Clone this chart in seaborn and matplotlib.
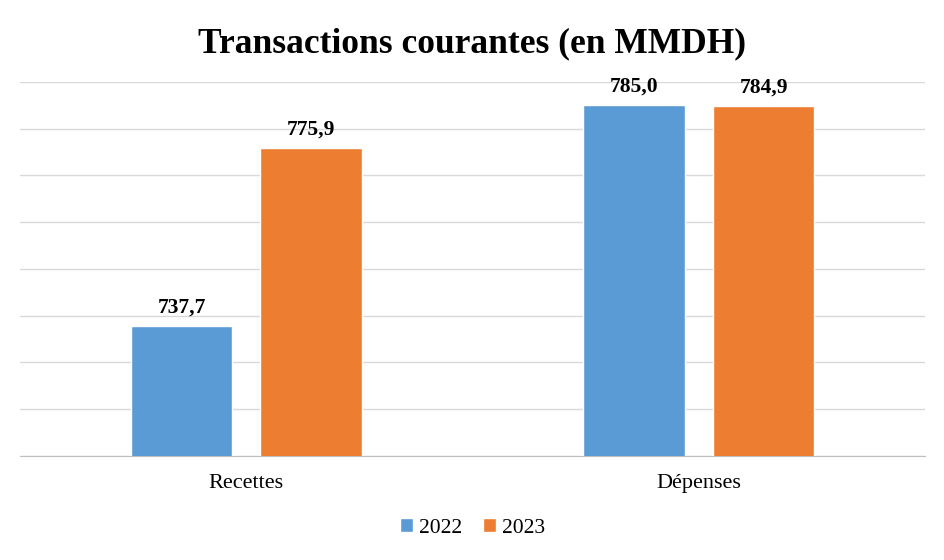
import numpy as np
import pandas as pd
import matplotlib.pyplot as plt
import seaborn as sns

categories = ['Recettes', 'Dépenses']
years = ['2022', '2023']
values_2022 = [737.7, 785.0]
values_2023 = [775.9, 784.9]

df = pd.DataFrame({
    'categorie': categories * 2,
    'annee': [years[0]] * 2 + [years[1]] * 2,
    'valeur': values_2022 + values_2023,
})

sns.set_style('white')
plt.rcParams['font.family'] = ['Liberation Serif', 'DejaVu Serif']
plt.rcParams['text.color'] = 'black'
plt.rcParams['xtick.color'] = 'black'

fig = plt.figure(figsize=(9.45, 5.6), dpi=100)
ax = fig.add_axes([0.021, 0.186, 0.958, 0.668])

palette = {'2022': '#5B9BD5', '2023': '#ED7D31'}
sns.barplot(data=df, x='categorie', y='valeur', hue='annee', palette=palette,
            width=0.572, gap=0.217, saturation=1, ax=ax, legend=True, zorder=3)

ax.set_ylim(710, 790)
ax.set_xlim(-0.5, 1.5)
ax.set_yticks(np.arange(710, 791, 10))
ax.set_yticklabels([])
ax.tick_params(axis='y', length=0)
ax.tick_params(axis='x', length=0, labelsize=16, labelcolor='black', pad=13)
ax.grid(axis='y', color='#D9D9D9', linewidth=1, zorder=0)
for s in ['top', 'right', 'left']:
    ax.spines[s].set_visible(False)
ax.spines['bottom'].set_color('#BFBFBF')
ax.set_xlabel('')
ax.set_ylabel('')

for cont in ax.containers:
    labels = [f'{v:.1f}'.replace('.', ',') for v in cont.datavalues]
    ax.bar_label(cont, labels=labels, padding=6, fontsize=15.5, fontweight='bold',
                 color='black')

ax.legend(loc='upper center', bbox_to_anchor=(0.5, -0.115), ncol=2, frameon=False,
          fontsize=15.5, handlelength=0.6, handleheight=0.6, handletextpad=0.25,
          columnspacing=1.0)

fig.suptitle('Transactions courantes (en MMDH)', fontsize=25.5, fontweight='bold',
             y=0.952, color='black')

fig.savefig('out.png', dpi=100)
